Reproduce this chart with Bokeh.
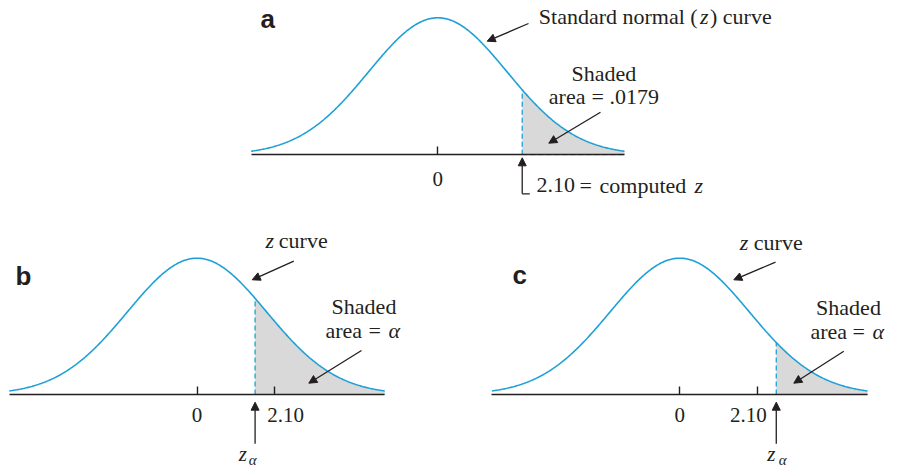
import numpy as np
from bokeh.plotting import figure
from bokeh.models import Range1d, LinearAxis, FixedTicker, Arrow, NormalHead
from bokeh.layouts import column, row
from bokeh.embed import file_html
from bokeh.resources import INLINE
from bokeh.core.properties import value

# ---------------- data ----------------
panel_letters = ["a", "b", "c"]
cutoff_z = [2.10, 1.57, 2.61]          # a: computed z ; b, c: z_alpha
curve_sd = [1.72, 1.88, 1.88]          # spread of the (schematic) z curve as drawn
curve_halfwidth_sd = 2.7               # curve drawn over +/- 2.7 spreads
tick_values = [[0.0], [0.0, 2.10], [0.0, 2.10]]
tick_labels = [["0"], ["0", "2.10"], ["0", "2.10"]]
shaded_area_value = [".0179", "\u03b1", "\u03b1"]
computed_z_label = "2.10"

# ---------------- style ----------------
INK = "#231f20"
BLUE = "#1ea0d7"
GRAY = "#d9d9d9"
SERIF = value("Liberation Serif")
SANS = value("Liberation Sans")
BASELINE_FIX = 0.32   # bokeh draws 'alphabetic' text this many em lower than asked

# page-pixel geometry of each panel (figure box, curve centre, baseline, px per z unit, peak height)
LAYOUT = [
    dict(L=0, R=899, T=0, B=205, cx=437.3, by=154.3, sx=40.2, peak=137.0),
    dict(L=0, R=450, T=205, B=468, cx=196.5, by=394.0, sx=37.0, peak=136.3),
    dict(L=450, R=899, T=205, B=468, cx=679.2, by=394.0, sx=37.0, peak=136.3),
]
TICK_LABEL_BASE = [185.3, 421.5, 421.5]
TICK_LABEL_SHIFT = [[0], [0, 11], [0, -9]]
TICK_FONT = 21

# annotation texts: (x px, baseline px, text, style, size, align)
TEXTS = [
    [(260, 26.7, panel_letters[0], "sans", 26, "left"),
     (538.3, 23.3, "Standard normal (", "normal", 22, "left"),
     (699.5, 23.3, "z", "italic", 22, "left"),
     (709.5, 23.3, ") curve", "normal", 22, "left"),
     (603.3, 80.0, "Shaded", "normal", 22, "center"),
     (548.3, 103.5, "area", "normal", 22, "left"),
     (591.0, 103.5, "=", "normal", 22, "left"),
     (609.0, 103.5, shaded_area_value[0], "normal", 22, "left"),
     (536.0, 191.7, computed_z_label, "normal", 22, "left"),
     (579.0, 191.7, "=", "normal", 22, "left"),
     (599.0, 191.7, "computed", "normal", 22, "left"),
     (694.0, 191.7, "z", "italic", 22, "left")],
    [(15, 284.0, panel_letters[1], "sans", 26, "left"),
     (265.0, 246.7, "z", "italic", 22, "left"),
     (278.3, 246.7, "curve", "normal", 22, "left"),
     (363.5, 312.7, "Shaded", "normal", 22, "center"),
     (325.0, 337.3, "area", "normal", 22, "left"),
     (368.0, 337.3, "=", "normal", 22, "left"),
     (388.0, 337.3, shaded_area_value[1], "italic", 22, "left"),
     (238.3, 460.0, "z", "italic", 21, "left"),
     (248.3, 464.3, "\u03b1", "italic", 15, "left")],
    [(512, 282.7, panel_letters[2], "sans", 26, "left"),
     (739.3, 249.5, "z", "italic", 22, "left"),
     (753.3, 249.5, "curve", "normal", 22, "left"),
     (848.0, 314.0, "Shaded", "normal", 22, "center"),
     (810.0, 338.3, "area", "normal", 22, "left"),
     (852.0, 338.3, "=", "normal", 22, "left"),
     (872.0, 338.3, shaded_area_value[2], "italic", 22, "left"),
     (766.7, 460.0, "z", "italic", 21, "left"),
     (778.3, 464.3, "\u03b1", "italic", 15, "left")],
]
# arrows in page px: (x0, y0, x1, y1); None for x means "at the cutoff"
ARROWS = [
    [(528.0, 23.0, 486.7, 40.7), (600.0, 111.7, 548.3, 142.7), (None, 193.3, None, 157.3)],
    [(293.3, 260.7, 251.7, 279.3), (361.0, 350.0, 308.3, 382.7), (None, 443.3, None, 401.7)],
    [(775.0, 261.7, 733.3, 279.3), (843.3, 350.7, 793.3, 382.7), (None, 443.3, None, 401.7)],
]


def build(i):
    g = LAYOUT[i]
    sd = curve_sd[i]
    peak_pdf = 1.0 / (sd * np.sqrt(2 * np.pi))
    sy = g["peak"] / peak_pdf

    def X(px):
        return (px - g["cx"]) / g["sx"]

    def Y(py):
        return (g["by"] - py) / sy

    p = figure(width=g["R"] - g["L"], height=g["B"] - g["T"],
               x_range=Range1d(X(g["L"]), X(g["R"])),
               y_range=Range1d(Y(g["B"]), Y(g["T"])),
               output_backend="svg", toolbar_location=None, tools="",
               x_axis_location=None, y_axis_location=None,
               min_border=0, outline_line_color=None,
               background_fill_color="white", border_fill_color="white")
    p.xgrid.visible = False
    p.ygrid.visible = False

    def pdf(v):
        return np.exp(-0.5 * (np.asarray(v) / sd) ** 2) * peak_pdf

    x0, x1 = -curve_halfwidth_sd * sd, curve_halfwidth_sd * sd
    x = np.linspace(x0, x1, 401)
    y = pdf(x)
    c = cutoff_z[i]
    xt = x[x > c]
    xs = np.concatenate([[c], xt, [x1, c]])
    ys = np.concatenate([[pdf(c)], pdf(xt), [0.0, 0.0]])
    p.patch(xs, ys, fill_color=GRAY, line_color=None)

    # baseline axis with ticks
    ax = LinearAxis(fixed_location=0, bounds=(x0, x1),
                    ticker=FixedTicker(ticks=tick_values[i]),
                    major_tick_in=8, major_tick_out=0,
                    minor_tick_line_color=None,
                    major_label_text_color=None,
                    axis_line_color=INK, axis_line_width=1.6,
                    major_tick_line_color=INK, major_tick_line_width=1.4)
    p.add_layout(ax, "below")

    p.line(x, y, line_color=BLUE, line_width=1.6)
    p.segment(x0=[c], y0=[0], x1=[c], y1=[float(pdf(c))], line_color=BLUE,
              line_width=1.3, line_dash="5 3")
    p.segment(x0=[c], y0=[0], x1=[x1], y1=[0], line_color=BLUE,
              line_width=1.0, line_dash="5 3", line_alpha=0.6)

    # tick labels
    ty = Y(TICK_LABEL_BASE[i] - BASELINE_FIX * TICK_FONT)
    p.text(x=tick_values[i], y=[ty] * len(tick_values[i]),
           text=tick_labels[i], x_offset=TICK_LABEL_SHIFT[i],
           text_font=SERIF, text_font_size=f"{TICK_FONT}px", text_color=INK,
           text_align="center", text_baseline="alphabetic")

    for (px, py, t, style, size, align) in TEXTS[i]:
        yy = Y(py - BASELINE_FIX * size)
        if style == "sans":
            p.text(x=[X(px)], y=[yy], text=[t], text_font=SANS,
                   text_font_style="bold", text_font_size=f"{size}px",
                   text_color=INK, text_align=align, text_baseline="alphabetic")
        else:
            p.text(x=[X(px)], y=[yy], text=[t], text_font=SERIF,
                   text_font_style=style, text_font_size=f"{size}px",
                   text_color=INK, text_align=align, text_baseline="alphabetic")

    for (ax0, ay0, ax1, ay1) in ARROWS[i]:
        xa = c if ax0 is None else X(ax0)
        xb = c if ax1 is None else X(ax1)
        p.add_layout(Arrow(x_start=xa, y_start=Y(ay0), x_end=xb, y_end=Y(ay1),
                           line_color=INK, line_width=1.3,
                           end=NormalHead(size=8, fill_color=INK, line_color=INK,
                                          line_width=1)))
    if i == 0:
        # foot of the L-shaped pointer to the computed z
        p.segment(x0=[c], y0=[Y(193.3)], x1=[X(529.3)], y1=[Y(193.3)],
                  line_color=INK, line_width=1.3)
    return p


pa, pb, pc = (build(k) for k in range(3))
layout = column(pa, row(pb, pc, spacing=0), spacing=0)

with open("out.html", "w") as f:
    f.write(file_html(layout, INLINE))
